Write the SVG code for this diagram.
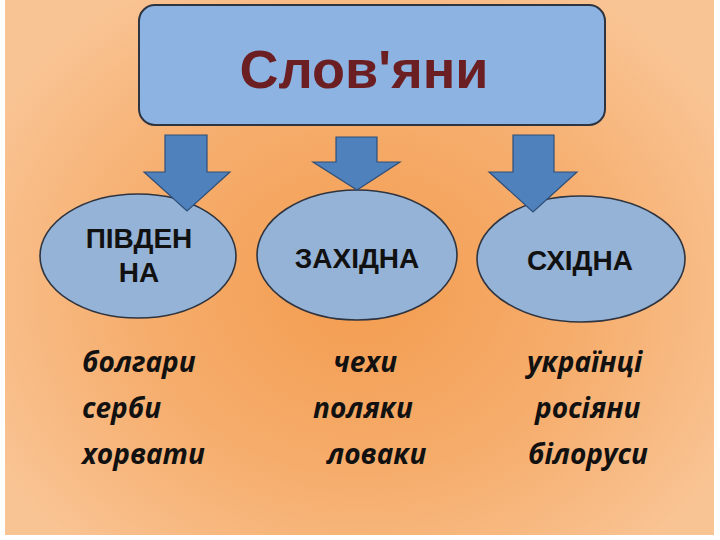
<svg xmlns="http://www.w3.org/2000/svg" width="720" height="540" viewBox="0 0 720 540">
  <defs>
    <radialGradient id="bg" cx="360" cy="290" r="420" gradientUnits="userSpaceOnUse" gradientTransform="translate(360 290) scale(1 0.85) translate(-360 -290)">
      <stop offset="0" stop-color="#F39C4F"/>
      <stop offset="0.55" stop-color="#F6AE6E"/>
      <stop offset="1" stop-color="#F9C494"/>
    </radialGradient>
    <style>
      .oval { fill: #95B3D7; stroke: #2E3440; stroke-width: 1.6; }
      .arrow { fill: #4F81BD; stroke: #2F4F78; stroke-width: 1.2; stroke-linejoin: miter; }
      .lbl { font-family: "Liberation Sans", Arial, sans-serif; font-weight: bold; font-size: 28px; fill: #111; text-anchor: middle; }
      .word { font-family: "Open Sans", "Noto Sans", "DejaVu Sans", sans-serif; font-weight: bold; font-style: italic; font-size: 28px; fill: #111; }
    </style>
  </defs>
  <rect x="0" y="0" width="720" height="540" fill="#FFFFFF"/>
  <rect x="5" y="0" width="709" height="535" fill="url(#bg)"/>

  <g id="node-slovyany">
    <rect x="139" y="5" width="466" height="120" rx="16" ry="16" fill="#8DB3E2" stroke="#2E3440" stroke-width="2"/>
    <text x="364" y="88" font-family="Liberation Sans, Arial, sans-serif" font-weight="bold" font-size="54" fill="#6B1F22" text-anchor="middle">Слов'яни</text>
  </g>

  <g id="node-pivdenna">
    <ellipse class="oval" cx="138" cy="256" rx="98" ry="62"/>
    <text class="lbl" x="139" y="248">ПІВДЕН</text>
    <text class="lbl" x="139" y="282">НА</text>
  </g>
  <g id="node-zakhidna">
    <ellipse class="oval" cx="357" cy="255" rx="100" ry="65"/>
    <text class="lbl" x="357" y="268">ЗАХІДНА</text>
  </g>
  <g id="node-skhidna">
    <ellipse class="oval" cx="581" cy="259" rx="104" ry="63"/>
    <text class="lbl" x="580" y="270">СХІДНА</text>
  </g>

  <g id="connectors">
    <polygon class="arrow" points="165,135 207,135 207,172 230,172 187,211 144,172 165,172"/>
    <polygon class="arrow" points="336,137 377,137 377,162 400,162 357,190 313,162 336,162"/>
    <polygon class="arrow" points="513,135 554,135 554,172 577,172 533,212 489,172 513,172"/>
  </g>

  <g id="words">
    <text class="word" x="82" y="372">болгари</text>
    <text class="word" x="82" y="418">серби</text>
    <text class="word" x="82" y="464">хорвати</text>
    <text class="word" x="333" y="372">чехи</text>
    <text class="word" x="313" y="418">поляки</text>
    <text class="word" x="327" y="464">ловаки</text>
    <text class="word" x="527" y="372">українці</text>
    <text class="word" x="535" y="418">росіяни</text>
    <text class="word" x="528" y="464">білоруси</text>
  </g>
</svg>
